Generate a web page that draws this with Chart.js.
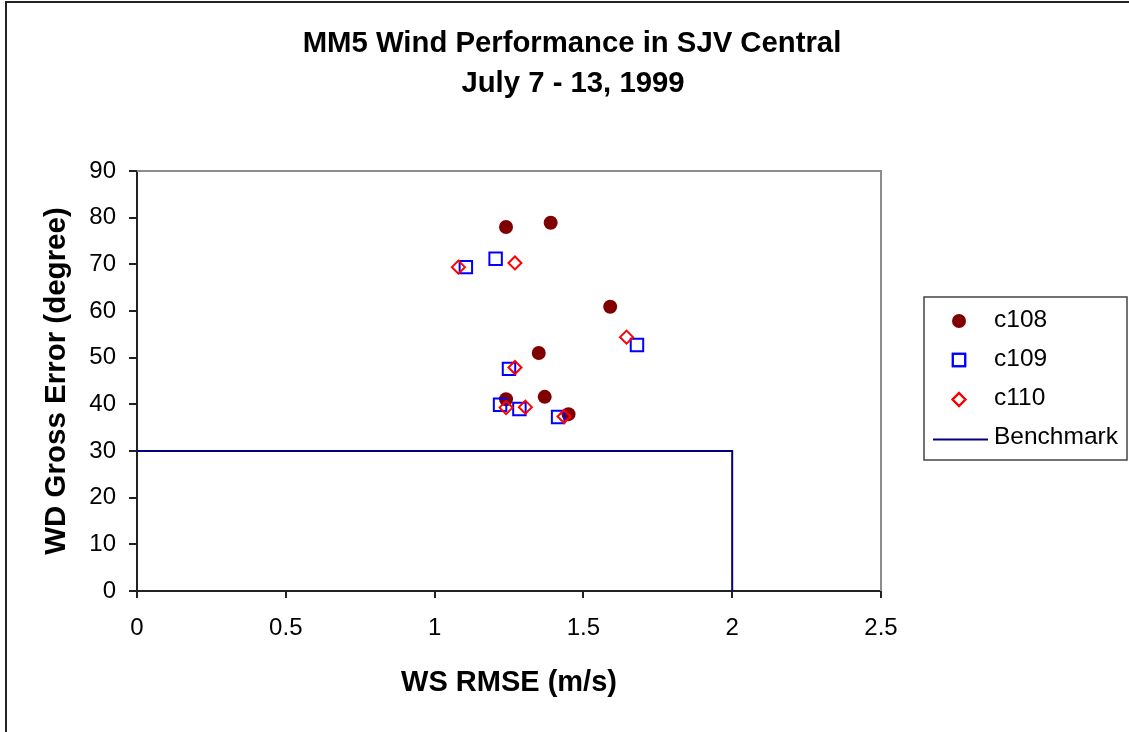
<!DOCTYPE html>
<html>
<head>
<meta charset="utf-8">
<script src="https://cdn.jsdelivr.net/npm/chart.js@4/dist/chart.umd.min.js"></script>
<style>
  html, body { margin: 0; padding: 0; background: #fff; }
  #wrap { width: 1129px; height: 732px; position: relative; }
</style>
</head>
<body>
<div id="wrap"><canvas id="c" width="1129" height="732"></canvas></div>
<script>
const titleLines = ['MM5 Wind Performance in SJV Central', 'July 7 - 13, 1999'];
const xAxisTitle = 'WS RMSE (m/s)';
const yAxisTitle = 'WD Gross Error (degree)';
const seriesNames = ['c108', 'c109', 'c110', 'Benchmark'];
const xTickLabels = ['0', '0.5', '1', '1.5', '2', '2.5'];
const yTickLabels = ['0', '10', '20', '30', '40', '50', '60', '70', '80', '90'];

const c108X = [1.24, 1.39, 1.59, 1.35, 1.37, 1.24, 1.45];
const c108Y = [78.0, 78.9, 60.9, 51.0, 41.6, 41.1, 37.9];
const c109X = [1.105, 1.205, 1.68, 1.25, 1.22, 1.285, 1.415];
const c109Y = [69.4, 71.2, 52.7, 47.6, 39.9, 39.0, 37.3];
const c110X = [1.08, 1.27, 1.645, 1.27, 1.24, 1.305, 1.435];
const c110Y = [69.4, 70.3, 54.4, 47.9, 39.3, 39.4, 37.4];
const benchX = [0, 2, 2];
const benchY = [30, 30, 0];

const FONT = "'Liberation Sans', Arial, sans-serif";
const toPts = (xs, ys) => xs.map((x, i) => ({x: x, y: ys[i]}));

const frame = {
  id: 'frame',
  beforeDraw(chart) {
    const ctx = chart.ctx;
    ctx.save();
    ctx.fillStyle = '#fff';
    ctx.fillRect(0, 0, chart.width, chart.height);
    ctx.strokeStyle = '#222';
    ctx.lineWidth = 2;
    ctx.beginPath();
    ctx.moveTo(6, chart.height);
    ctx.lineTo(6, 2);
    ctx.lineTo(chart.width, 2);
    ctx.stroke();
    ctx.restore();
  },
  beforeDatasetsDraw(chart) {
    const a = chart.chartArea, ctx = chart.ctx;
    ctx.save();
    ctx.strokeStyle = '#8c8c8c';
    ctx.lineWidth = 2;
    ctx.beginPath();
    ctx.moveTo(a.left, a.top);
    ctx.lineTo(a.right, a.top);
    ctx.lineTo(a.right, a.bottom);
    ctx.stroke();
    ctx.restore();
  },
  afterDraw(chart) {
    const ctx = chart.ctx;
    ctx.save();
    // Title
    ctx.fillStyle = '#000';
    ctx.font = 'bold 29.3px ' + FONT;
    ctx.textAlign = 'center';
    ctx.textBaseline = 'middle';
    ctx.fillText(titleLines[0], 572, 44);
    ctx.fillText(titleLines[1], 573, 84);
    // Legend box
    ctx.strokeStyle = '#444';
    ctx.lineWidth = 1.5;
    ctx.strokeRect(924, 297, 203, 163);
    const ys = [320, 359, 398.5, 437.5];
    chart.data.datasets.forEach((ds, i) => {
      const y = ys[i];
      if (ds.showLine) {
        ctx.strokeStyle = ds.borderColor;
        ctx.lineWidth = ds.borderWidth;
        ctx.beginPath();
        ctx.moveTo(933, y + 2);
        ctx.lineTo(988, y + 2);
        ctx.stroke();
      } else {
        ctx.fillStyle = ds.pointBackgroundColor;
        ctx.strokeStyle = ds.pointBorderColor;
        ctx.lineWidth = ds.pointBorderWidth;
        Chart.helpers.drawPoint(ctx, {
          pointStyle: ds.pointStyle, radius: ds.pointRadius, rotation: 0,
          borderWidth: ds.pointBorderWidth
        }, 959, y + 1);
        if (ds.pointBorderWidth > 0) ctx.stroke();
      }
      ctx.fillStyle = '#000';
      ctx.font = '24.5px ' + FONT;
      ctx.textAlign = 'left';
      ctx.textBaseline = 'middle';
      ctx.fillText(ds.label, 994, y);
    });
    ctx.restore();
  }
};

new Chart(document.getElementById('c'), {
  type: 'scatter',
  data: {
    datasets: [
      {
        label: seriesNames[0], data: toPts(c108X, c108Y), order: 2,
        pointStyle: 'circle', pointRadius: 7, pointHoverRadius: 7,
        pointBackgroundColor: '#800000', pointBorderColor: '#800000', pointBorderWidth: 0,
        backgroundColor: '#800000', borderColor: '#800000'
      },
      {
        label: seriesNames[1], data: toPts(c109X, c109Y), order: 1,
        pointStyle: 'rect', pointRadius: 8.8, pointHoverRadius: 8.8,
        pointBackgroundColor: 'rgba(0,0,0,0)', pointBorderColor: '#0000ff', pointBorderWidth: 2,
        backgroundColor: 'rgba(0,0,0,0)', borderColor: '#0000ff'
      },
      {
        label: seriesNames[2], data: toPts(c110X, c110Y), order: 0,
        pointStyle: 'rectRot', pointRadius: 6.5, pointHoverRadius: 6.5,
        pointBackgroundColor: 'rgba(0,0,0,0)', pointBorderColor: '#ff0000', pointBorderWidth: 2,
        backgroundColor: 'rgba(0,0,0,0)', borderColor: '#ff0000'
      },
      {
        label: seriesNames[3], data: toPts(benchX, benchY), order: 3,
        showLine: true, pointRadius: 0, pointHoverRadius: 0,
        borderColor: '#000080', borderWidth: 2, backgroundColor: '#000080', fill: false, tension: 0
      }
    ]
  },
  options: {
    responsive: false,
    animation: false,
    events: [],
    layout: { padding: { left: 0, top: 171, right: 248, bottom: 0 } },
    plugins: { legend: { display: false }, title: { display: false }, tooltip: { enabled: false } },
    scales: {
      x: {
        type: 'linear', min: 0, max: 2.5,
        ticks: {
          stepSize: 0.5, color: '#000', padding: 15.5,
          font: { family: FONT, size: 24 },
          callback: (v, i) => xTickLabels[i]
        },
        grid: { display: true, drawOnChartArea: false, drawTicks: true, tickLength: 7, color: '#222', lineWidth: 2 },
        border: { display: true, color: '#222', width: 2 },
        title: {
          display: true, text: xAxisTitle, color: '#000',
          font: { family: FONT, size: 29, weight: 'bold' },
          padding: { top: 0, bottom: 31.5 }
        },
        afterFit: (s) => { s.height = 141; }
      },
      y: {
        type: 'linear', min: 0, max: 90,
        ticks: {
          stepSize: 10, color: '#000', padding: 13,
          font: { family: FONT, size: 24 },
          callback: (v, i) => yTickLabels[i]
        },
        grid: { display: true, drawOnChartArea: false, drawTicks: true, tickLength: 8, color: '#222', lineWidth: 2 },
        border: { display: true, color: '#222', width: 2 },
        title: {
          display: true, text: yAxisTitle, color: '#000',
          font: { family: FONT, size: 29.5, weight: 'bold' },
          padding: { top: 39.5, bottom: 0 }
        },
        afterFit: (s) => { s.width = 137; }
      }
    }
  },
  plugins: [frame]
});
</script>
</body>
</html>
